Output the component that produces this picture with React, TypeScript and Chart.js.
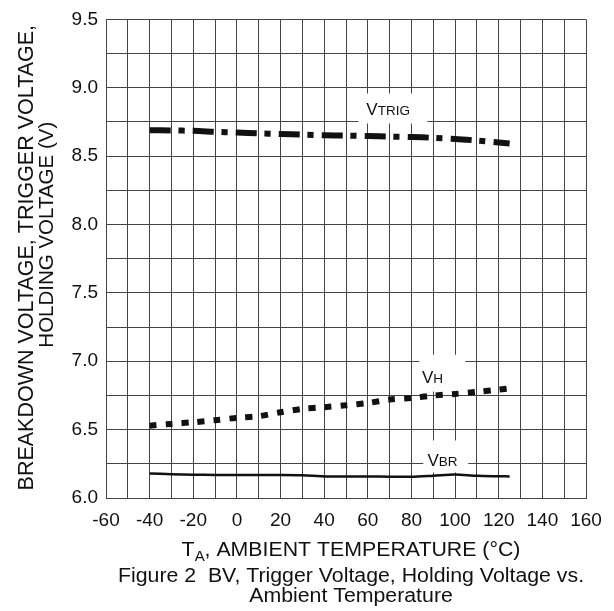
import { useEffect, useRef } from 'react';
import { Chart, registerables } from 'chart.js';

Chart.register(...registerables);

// ---- data ----
const temperatures = [-40, -30, -20, -10, 0, 10, 20, 30, 40, 50, 60, 70, 80, 90, 100, 110, 120, 125];
const vTrig = [8.69, 8.688, 8.685, 8.678, 8.672, 8.667, 8.662, 8.657, 8.653, 8.65, 8.647, 8.643, 8.64, 8.634, 8.626, 8.614, 8.6, 8.592];
const vHold = [6.529, 6.542, 6.554, 6.569, 6.586, 6.598, 6.627, 6.652, 6.664, 6.678, 6.695, 6.72, 6.731, 6.749, 6.761, 6.776, 6.793, 6.802];
const vBr = [6.18, 6.174, 6.17, 6.169, 6.168, 6.168, 6.168, 6.166, 6.158, 6.157, 6.157, 6.156, 6.155, 6.163, 6.172, 6.162, 6.159, 6.158];

const xTickLabels = ['-60', '-40', '-20', '0', '20', '40', '60', '80', '100', '120', '140', '160'];
const yTickLabels = ['6.0', '6.5', '7.0', '7.5', '8.0', '8.5', '9.0', '9.5'];

const yTitleLines = ['BREAKDOWN VOLTAGE, TRIGGER VOLTAGE,', 'HOLDING VOLTAGE (V)'];
const xTitleMain = 'T';
const xTitleSub = 'A';
const xTitleRest = ', AMBIENT TEMPERATURE (°C)';
const captionLines = ['Figure 2  BV, Trigger Voltage, Holding Voltage vs.', 'Ambient Temperature'];

const FONT = '"Liberation Sans", Arial, Helvetica, sans-serif';
const INK = '#111';
const GRID = '#444';

// series labels (anchor + white backing box in data units)
const seriesLabels = [
  { main: 'V', sub: 'TRIG', x: 59.3, y: 8.798, box: [55.7, 87.3, 8.958, 8.739] },
  { main: 'V', sub: 'H', x: 84.8, y: 6.844, box: [83.6, 104.7, 7.047, 6.778] },
  { main: 'V', sub: 'BR', x: 87.3, y: 6.232, box: [85.4, 106.0, 6.421, 6.187] },
];

const labelPlugin = {
  id: 'seriesLabels',
  beforeDatasetsDraw(chart: any) {
    const { ctx, scales } = chart;
    const xs = scales.x;
    const ys = scales.y;
    ctx.save();
    ctx.fillStyle = '#fff';
    for (const l of seriesLabels) {
      const x0 = xs.getPixelForValue(l.box[0]);
      const x1 = xs.getPixelForValue(l.box[1]);
      const y0 = ys.getPixelForValue(l.box[2]);
      const y1 = ys.getPixelForValue(l.box[3]);
      ctx.fillRect(x0, y0, x1 - x0, y1 - y0);
    }
    ctx.fillStyle = INK;
    ctx.textBaseline = 'alphabetic';
    ctx.textAlign = 'left';
    for (const l of seriesLabels) {
      const px = xs.getPixelForValue(l.x);
      const py = ys.getPixelForValue(l.y);
      ctx.font = `17px ${FONT}`;
      ctx.fillText(l.main, px, py);
      const w = ctx.measureText(l.main).width;
      ctx.font = `13.5px ${FONT}`;
      ctx.fillText(l.sub, px + w, py);
    }
    ctx.restore();
  },
};

const STRETCH = 1.065;

const titlePlugin = {
  id: 'titles',
  afterDraw(chart: any) {
    const { ctx, chartArea } = chart;
    const cx = (chartArea.left + chartArea.right) / 2 + 5;
    ctx.save();
    ctx.fillStyle = INK;
    // y title (rotated, two lines)
    ctx.textAlign = 'center';
    ctx.textBaseline = 'middle';
    const midY = (chartArea.top + chartArea.bottom) / 2;
    ctx.save();
    ctx.font = `21.5px ${FONT}`;
    ctx.translate(27, midY - 1);
    ctx.rotate(-Math.PI / 2);
    ctx.fillText(yTitleLines[0], 0, 0);
    ctx.restore();
    ctx.save();
    ctx.font = `20.5px ${FONT}`;
    ctx.translate(47, midY - 24);
    ctx.rotate(-Math.PI / 2);
    ctx.fillText(yTitleLines[1], 0, 0);
    ctx.restore();

    // x title with subscript (slightly widened like the reference)
    ctx.save();
    ctx.translate(cx, 0);
    ctx.scale(STRETCH, 1);
    ctx.textAlign = 'left';
    ctx.textBaseline = 'alphabetic';
    ctx.font = `20px ${FONT}`;
    const wMain = ctx.measureText(xTitleMain).width;
    const wRest = ctx.measureText(xTitleRest).width;
    ctx.font = `14px ${FONT}`;
    const wSub = ctx.measureText(xTitleSub).width;
    const total = wMain + wSub + wRest;
    let x = -total / 2;
    const base = chartArea.bottom + 58;
    ctx.font = `20px ${FONT}`;
    ctx.fillText(xTitleMain, x, base);
    x += wMain;
    ctx.font = `14px ${FONT}`;
    ctx.fillText(xTitleSub, x, base + 5);
    x += wSub;
    ctx.font = `20px ${FONT}`;
    ctx.fillText(xTitleRest, x, base);

    // caption
    ctx.textAlign = 'center';
    ctx.fillText(captionLines[0], 0, chartArea.bottom + 84);
    ctx.fillText(captionLines[1], 0, chartArea.bottom + 104);
    ctx.restore();
    ctx.restore();
  },
};

export default function App() {
  const canvasRef = useRef<HTMLCanvasElement | null>(null);

  useEffect(() => {
    const canvas = canvasRef.current;
    if (!canvas) return;
    const toPoints = (vals: number[]) => temperatures.map((t, i) => ({ x: t, y: vals[i] }));
    const chart = new Chart(canvas, {
      type: 'line',
      data: {
        datasets: [
          {
            label: 'VTRIG',
            data: toPoints(vTrig),
            borderColor: INK,
            borderWidth: 6,
            borderDash: [21, 8, 6, 8],
            borderCapStyle: 'butt',
            pointRadius: 0,
            fill: false,
            tension: 0.3,
          },
          {
            label: 'VH',
            data: toPoints(vHold),
            borderColor: INK,
            borderWidth: 6,
            borderDash: [7, 9],
            borderCapStyle: 'butt',
            pointRadius: 0,
            fill: false,
            tension: 0.3,
          },
          {
            label: 'VBR',
            data: toPoints(vBr),
            borderColor: INK,
            borderWidth: 2.5,
            pointRadius: 0,
            fill: false,
            tension: 0.3,
          },
        ],
      },
      options: {
        animation: false,
        responsive: false,
        events: [],
        layout: { padding: { left: 0, top: 19, right: 28, bottom: 0 } },
        plugins: {
          legend: { display: false },
          tooltip: { enabled: false },
          title: { display: false },
        },
        scales: {
          x: {
            type: 'linear',
            min: -60,
            max: 160,
            afterFit: (s: any) => { s.height = 113; },
            border: { display: true, color: GRID, width: 1 },
            grid: { color: GRID, lineWidth: 1, drawTicks: false },
            ticks: {
              stepSize: 10,
              autoSkip: false,
              maxRotation: 0,
              padding: 11,
              color: INK,
              font: { family: FONT, size: 19 },
              callback: (v: any) => {
                const s = String(v);
                return xTickLabels.includes(s) ? s : '';
              },
            },
          },
          y: {
            type: 'linear',
            min: 6,
            max: 9.5,
            afterFit: (s: any) => { s.width = 106; },
            border: { display: true, color: GRID, width: 1 },
            grid: { color: GRID, lineWidth: 1, drawTicks: false },
            ticks: {
              stepSize: 0.25,
              autoSkip: false,
              padding: 8,
              color: INK,
              font: { family: FONT, size: 19 },
              callback: (v: any) => {
                const n = Number(v);
                if (Math.abs(n * 2 - Math.round(n * 2)) > 1e-6) return '';
                const s = n.toFixed(1);
                return yTickLabels.includes(s) ? s : '';
              },
            },
          },
        },
      },
      plugins: [labelPlugin, titlePlugin],
    } as any);
    return () => chart.destroy();
  }, []);

  return (
    <div style={{ position: 'absolute', left: 0, top: 0, width: 614, height: 611, background: '#fff' }}>
      <canvas ref={canvasRef} width={614} height={611} style={{ display: 'block' }} />
    </div>
  );
}
